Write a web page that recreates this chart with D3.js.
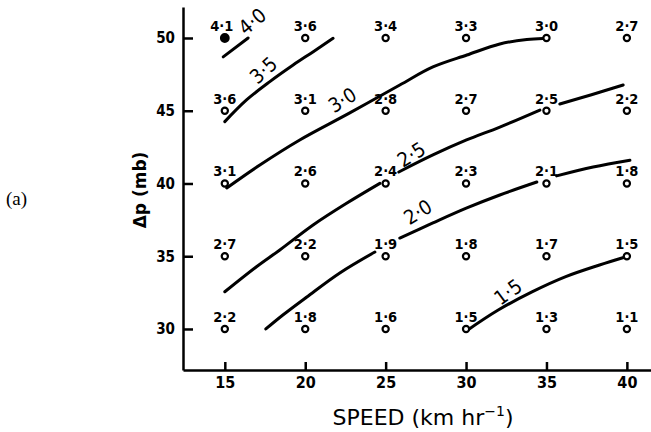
<!DOCTYPE html>
<html>
<head>
<meta charset="utf-8">
<script src="https://cdn.jsdelivr.net/npm/d3@7"></script>
<style>
  body { margin: 0; background: #fff; }
  svg { display: block; }
  .tick line { stroke: #000; stroke-width: 2.5; }
  .domain { stroke: #000; stroke-width: 2.5; }
</style>
</head>
<body>
<svg id="chart"></svg>
<script>
// grid of observations
const speeds = [15, 20, 25, 30, 35, 40];
const pressures = [50, 45, 40, 35, 30];
// one row per pressure, one value per speed
const values = [
    [4.1, 3.6, 3.4, 3.3, 3.0, 2.7],
    [3.6, 3.1, 2.8, 2.7, 2.5, 2.2],
    [3.1, 2.6, 2.4, 2.3, 2.1, 1.8],
    [2.7, 2.2, 1.9, 1.8, 1.7, 1.5],
    [2.2, 1.8, 1.6, 1.5, 1.3, 1.1]
];
const xTicks = [15, 20, 25, 30, 35, 40];
const yTicks = [30, 35, 40, 45, 50];

// hand drawn isolines, [speed, dp] pieces
const contour40 = [[[14.9, 48.7], [16.45, 50.0]]];
const contour35 = [[[15.0, 44.25], [16.35, 45.74], [17.8, 47.0], [19.25, 48.14], [20.5, 49.06], [21.73, 49.98]]];
const contour30 = [[[15.12, 39.69], [17.18, 41.27], [19.66, 42.99], [22.77, 44.85], [25.88, 46.77],
    [27.94, 48.01], [30.05, 48.83], [32.1, 49.59], [33.78, 49.9], [34.78, 49.97]]];
const contour25 = [
    [[15.0, 32.56], [16.97, 34.28], [18.42, 35.43], [20.49, 37.15], [22.57, 38.64], [24.64, 40.01]],
    [[25.82, 40.79], [27.94, 41.96], [30.03, 42.99], [32.1, 43.88], [34.59, 45.05]],
    [[35.83, 45.46], [37.8, 46.1], [39.77, 46.77]]
];
const contour20 = [
    [[17.55, 30.0], [18.61, 30.96], [20.1, 32.2], [22.15, 33.85], [24.33, 35.29]],
    [[25.88, 36.25], [27.94, 37.29], [30.05, 38.32], [32.1, 39.21], [34.4, 40.1]],
    [[35.63, 40.52], [37.9, 41.13], [40.19, 41.6]]
];
const contour15 = [[[30.0, 29.85], [32.0, 31.3], [34.1, 32.55], [36.2, 33.6], [38.3, 34.4], [39.9, 34.95]]];

const contours = [contour40, contour35, contour30, contour25, contour20, contour15];
const contourLabels = ['4·0', '3·5', '3·0', '2·5', '2·0', '1·5'];
const contourLabelPos = [[16.7, 51.15], [17.4, 47.8], [22.3, 45.75], [26.6, 42.0], [27.0, 38.05], [32.6, 32.55]];
const contourLabelAngle = [-40, -42, -32, -32, -32, -36];

const width = 651, height = 432;

const svg = d3.select('#chart')
    .attr('width', width)
    .attr('height', height);

svg.append('rect').attr('width', width).attr('height', height).attr('fill', '#fff');

const xScale = d3.scaleLinear().domain([12.4, 41.5]).range([183, 651]);
const yScale = d3.scaleLinear().domain([27.18, 52.13]).range([370, 7]);

const font = "'DejaVu Sans Condensed', 'DejaVu Sans', sans-serif";

// axes
const xAxis = d3.axisBottom(xScale)
    .tickValues(xTicks)
    .tickSizeInner(-8)
    .tickSizeOuter(0)
    .tickPadding(7)
    .tickFormat(d => d);

const yAxis = d3.axisLeft(yScale)
    .tickValues(yTicks)
    .tickSizeInner(-10)
    .tickSizeOuter(0)
    .tickPadding(8)
    .tickFormat(d => d);

svg.append('g')
    .attr('transform', `translate(0,${yScale.range()[0]})`)
    .call(xAxis)
    .call(g => g.selectAll('text')
        .style('font-family', font)
        .style('font-size', '16px')
        .style('font-weight', 'bold')
        .attr('fill', '#000'));

svg.append('g')
    .attr('transform', `translate(${xScale.range()[0]},0)`)
    .call(yAxis)
    .call(g => g.selectAll('text')
        .style('font-family', font)
        .style('font-size', '15px')
        .style('font-weight', 'bold')
        .attr('fill', '#000'));

// axis titles
svg.append('text')
    .attr('x', 423)
    .attr('y', 425)
    .attr('text-anchor', 'middle')
    .style('font-family', "'DejaVu Sans', sans-serif")
    .style('font-size', '22px')
    .html('SPEED (km hr<tspan dy="-9" font-size="14">−1</tspan><tspan dy="9">)</tspan>');

svg.append('text')
    .attr('transform', 'translate(146,190) rotate(-90)')
    .attr('text-anchor', 'middle')
    .style('font-family', "'DejaVu Sans', sans-serif")
    .style('font-size', '17px')
    .style('font-weight', 'bold')
    .text('Δp (mb)');

svg.append('text')
    .attr('x', 6)
    .attr('y', 205)
    .style('font-family', "'Liberation Serif', serif")
    .style('font-size', '19px')
    .text('(a)');

// isolines
const line = d3.line()
    .x(d => xScale(d[0]))
    .y(d => yScale(d[1]))
    .curve(d3.curveCatmullRom);

contours.forEach(pieces => {
    svg.append('g').selectAll('path')
        .data(pieces)
        .join('path')
        .attr('d', line)
        .attr('fill', 'none')
        .attr('stroke', '#000')
        .attr('stroke-width', 3)
        .attr('stroke-linecap', 'round');
});

svg.append('g').selectAll('text')
    .data(contourLabels)
    .join('text')
    .attr('transform', (d, i) => `translate(${xScale(contourLabelPos[i][0])},${yScale(contourLabelPos[i][1])}) rotate(${contourLabelAngle[i]})`)
    .attr('text-anchor', 'middle')
    .attr('dy', '0.36em')
    .style('font-family', font)
    .style('font-size', '20px')
    .text(d => d);

// observation points
const cells = [];
pressures.forEach((p, r) => {
    speeds.forEach((s, c) => {
        cells.push({speed: s, dp: p, value: values[r][c]});
    });
});

svg.append('g').selectAll('circle')
    .data(cells)
    .join('circle')
    .attr('cx', d => xScale(d.speed))
    .attr('cy', d => yScale(d.dp))
    .attr('r', d => d.value === 4.1 ? 3.8 : 3.1)
    .attr('fill', d => d.value === 4.1 ? '#000' : '#fff')
    .attr('stroke', '#000')
    .attr('stroke-width', 2.2);

svg.append('g').selectAll('text')
    .data(cells)
    .join('text')
    .attr('x', d => xScale(d.speed) - (d.value === 4.1 ? 3 : 0))
    .attr('y', d => yScale(d.dp) - 7)
    .attr('text-anchor', 'middle')
    .style('font-family', font)
    .style('font-size', '14.5px')
    .style('font-weight', 'bold')
    .text(d => d3.format('.1f')(d.value).replace('.', '·'));
</script>
</body>
</html>
